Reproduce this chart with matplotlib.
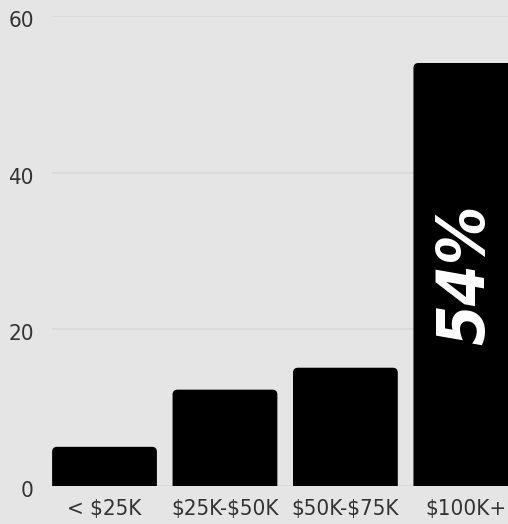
import numpy as np
import matplotlib
matplotlib.use("Agg")
import matplotlib.pyplot as plt
from matplotlib import font_manager
from matplotlib.path import Path
from matplotlib.patches import PathPatch
from matplotlib.transforms import ScaledTranslation

# data
categories = ["< $25K", "$25K-$50K", "$50K-$75K", "$100K+"]
values = [5, 12.3, 15.1, 54]
yticks = [0, 20, 40, 60]
highlight_label = "54%"

bg = "#e5e5e5"
grid_col = "#d9d9d9"
text_col = "#333333"

# look for a narrow / condensed face among the installed fonts
narrow = None
for f in font_manager.fontManager.ttflist:
    if "Narrow" in f.name or "Condensed" in f.name or f.stretch in ("condensed", "semi-condensed", "extra-condensed"):
        narrow = (f.name, f.stretch)
        break
if narrow:
    font, stretch = [narrow[0], "DejaVu Sans"], narrow[1]
else:
    font, stretch = ["DejaVu Sans"], "normal"

fig = plt.figure(figsize=(5.08, 5.24), dpi=100, facecolor=bg)
ax = fig.add_axes([52/508, 38/524, 456/508, 470/524])
ax.set_facecolor(bg)

x = np.arange(len(categories))
width = 0.87
bars = ax.bar(x, values, width=width, color="black", zorder=2)

ax.set_xlim(-0.436, 3.35)
ax.set_ylim(0, 60)

# swap plain bars for ones with rounded top corners
rx = 5.0 / 120.5
ry = 5.0 / (470 / 60.0)
for b in bars:
    b.set_visible(False)
    x0, w, h = b.get_x(), b.get_width(), b.get_height()
    x1 = x0 + w
    verts = [(x0, 0), (x0, h - ry), (x0, h), (x0 + rx, h), (x1 - rx, h),
             (x1, h), (x1, h - ry), (x1, 0), (x0, 0)]
    codes = [Path.MOVETO, Path.LINETO, Path.CURVE3, Path.CURVE3, Path.LINETO,
             Path.CURVE3, Path.CURVE3, Path.LINETO, Path.CLOSEPOLY]
    ax.add_patch(PathPatch(Path(verts, codes), facecolor="black",
                           edgecolor="none", zorder=2))

ax.set_xticks(x)
ax.set_xticklabels(categories)
ax.set_yticks(yticks)
for lab in ax.get_xticklabels() + ax.get_yticklabels():
    lab.set_family(font)
    lab.set_stretch(stretch)
    lab.set_fontsize(16)
    lab.set_color(text_col)
    lab.set_parse_math(False)
ax.tick_params(axis="x", length=0, pad=9)
ax.tick_params(axis="y", length=0, pad=13)
# y labels sit a little below their grid lines in the reference
shift = ScaledTranslation(0, -3 / 100, fig.dpi_scale_trans)
for lab in ax.get_yticklabels():
    lab.set_transform(lab.get_transform() + shift)

ax.grid(axis="y", color=grid_col, linewidth=1.2, zorder=0)
ax.set_axisbelow(True)
for s in ax.spines.values():
    s.set_visible(False)

ax.text(x[-1], 27, highlight_label, rotation=90, ha="center", va="center",
        color="white", fontsize=47, fontweight="bold", fontstyle="italic",
        family=font, stretch=stretch, zorder=3)

fig.savefig("out.png", dpi=100, facecolor=bg)
